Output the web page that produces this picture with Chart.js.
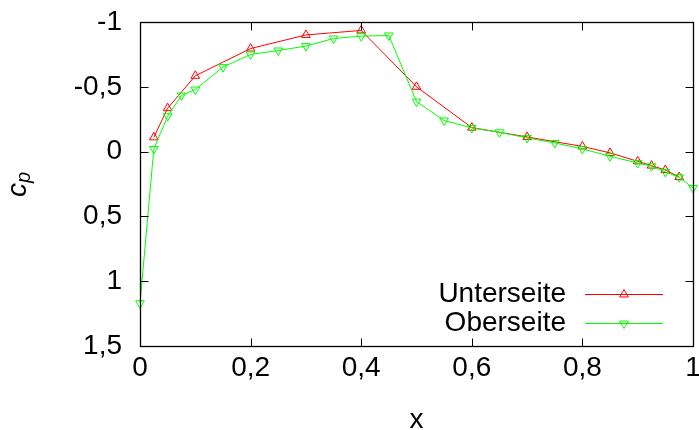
<!DOCTYPE html>
<html>
<head>
<meta charset="utf-8">
<script src="https://cdn.jsdelivr.net/npm/chart.js@4.4.1/dist/chart.umd.min.js"></script>
<style>
  html, body { margin: 0; padding: 0; background: #fff; }
  #wrap { width: 699px; height: 430px; }
</style>
</head>
<body>
<div id="wrap"><canvas id="cpChart"></canvas></div>
<script>
// pressure coefficient along the chord, lower and upper side
const xUnterseite = [0.025, 0.05, 0.1, 0.2, 0.3, 0.4, 0.5, 0.6, 0.7, 0.8, 0.85, 0.9, 0.925, 0.95, 0.975];
const cpUnterseite = [-0.11, -0.335, -0.585, -0.795, -0.9, -0.935, -0.5, -0.185, -0.113, -0.04, 0.01, 0.075, 0.108, 0.142, 0.196];

const xOberseite = [0, 0.025, 0.05, 0.075, 0.1, 0.15, 0.2, 0.25, 0.3, 0.35, 0.4, 0.45, 0.5, 0.55, 0.6, 0.65, 0.7, 0.75, 0.8, 0.85, 0.9, 0.925, 0.95, 0.975, 1];
const cpOberseite = [1.17, -0.02, -0.273, -0.433, -0.479, -0.652, -0.75, -0.78, -0.814, -0.873, -0.891, -0.896, -0.386, -0.24, -0.183, -0.149, -0.106, -0.067, -0.021, 0.036, 0.088, 0.113, 0.157, 0.198, 0.28];

const xTicks = [0, 0.2, 0.4, 0.6, 0.8, 1];
const yTicks = [-1, -0.5, 0, 0.5, 1, 1.5];

const FONT = 'Liberation Sans, Arial, Helvetica, sans-serif';
const fmt = v => String(Number(v.toFixed(2))).replace('.', ',');
const toPoints = (xs, ys) => xs.map((x, i) => ({ x: x, y: ys[i] }));

// box, inward tick marks, key and rotated c_p label
const gnuplotFrame = {
  id: 'gnuplotFrame',
  afterDraw(chart) {
    const { ctx, chartArea: a, scales } = chart;
    const L = Math.round(a.left) + 0.5, R = Math.round(a.right) + 0.5;
    const T = Math.round(a.top) + 0.5, B = Math.round(a.bottom) + 0.5;
    ctx.save();
    ctx.strokeStyle = '#000';
    ctx.lineWidth = 1.3;
    ctx.strokeRect(L, T, R - L, B - T);
    ctx.lineWidth = 1;
    const tl = 8;
    ctx.beginPath();
    xTicks.forEach(v => {
      const px = Math.round(scales.x.getPixelForValue(v)) + 0.5;
      ctx.moveTo(px, B); ctx.lineTo(px, B - tl);
      ctx.moveTo(px, T); ctx.lineTo(px, T + tl);
    });
    yTicks.forEach(v => {
      const py = Math.round(scales.y.getPixelForValue(v)) + 0.5;
      ctx.moveTo(L, py); ctx.lineTo(L + tl, py);
      ctx.moveTo(R, py); ctx.lineTo(R - tl, py);
    });
    ctx.stroke();

    // key
    ctx.font = '28px ' + FONT;
    ctx.textAlign = 'right';
    ctx.textBaseline = 'alphabetic';
    const rows = [{ ds: chart.data.datasets[0], y: 294 }, { ds: chart.data.datasets[1], y: 323 }];
    rows.forEach(r => {
      ctx.fillStyle = '#000';
      ctx.fillText(r.ds.label, 566, r.y + 8);
      ctx.strokeStyle = r.ds.borderColor;
      ctx.lineWidth = 1;
      ctx.beginPath();
      ctx.moveTo(585, r.y + 0.5); ctx.lineTo(663, r.y + 0.5);
      ctx.stroke();
      ctx.fillStyle = 'rgba(0,0,0,0)';
      Chart.helpers.drawPoint(ctx, {
        pointStyle: 'triangle', rotation: r.ds.pointRotation,
        radius: r.ds.pointRadius, borderWidth: 1
      }, 624, r.y + 0.5);
    });

    // y axis label c_p, rotated
    ctx.translate(26, 197);
    ctx.rotate(-Math.PI / 2);
    ctx.textAlign = 'left';
    ctx.fillStyle = '#000';
    ctx.font = 'italic 28px ' + FONT;
    ctx.fillText('c', 0, 0);
    const cw = ctx.measureText('c').width;
    ctx.font = 'italic 20px ' + FONT;
    ctx.fillText('p', cw, 3.5);
    ctx.restore();
  }
};

new Chart(document.getElementById('cpChart'), {
  type: 'line',
  data: {
    datasets: [{
      label: 'Unterseite',
      data: toPoints(xUnterseite, cpUnterseite),
      borderColor: '#ff0000',
      backgroundColor: 'rgba(0,0,0,0)',
      borderWidth: 1,
      pointStyle: 'triangle',
      pointRotation: 0,
      pointRadius: 5,
      pointBorderWidth: 1,
      tension: 0,
      clip: false,
      order: 1
    }, {
      label: 'Oberseite',
      data: toPoints(xOberseite, cpOberseite),
      borderColor: '#00ff00',
      backgroundColor: 'rgba(0,0,0,0)',
      borderWidth: 1,
      pointStyle: 'triangle',
      pointRotation: 180,
      pointRadius: 5,
      pointBorderWidth: 1,
      tension: 0,
      clip: false,
      order: 0
    }]
  },
  options: {
    responsive: true,
    maintainAspectRatio: false,
    animation: false,
    layout: { padding: { top: 22, right: 1, left: 0, bottom: 0 } },
    plugins: { legend: { display: false }, tooltip: { enabled: false } },
    scales: {
      x: {
        type: 'linear',
        min: 0, max: 1,
        grid: { display: false, drawTicks: false },
        border: { display: false },
        afterBuildTicks: s => { s.ticks = xTicks.map(v => ({ value: v })); },
        ticks: { callback: fmt, padding: 5, maxRotation: 0, color: '#000', font: { family: FONT, size: 28 } },
        title: { display: true, text: 'x', color: '#000', padding: { top: 0, bottom: -7 }, font: { family: FONT, size: 28 } },
        afterFit: s => { s.height = 84; s.paddingLeft = 0; s.paddingRight = 0; }
      },
      y: {
        type: 'linear',
        reverse: true,
        min: -1, max: 1.5,
        grid: { display: false, drawTicks: false },
        border: { display: false },
        afterBuildTicks: s => { s.ticks = yTicks.map(v => ({ value: v })); },
        ticks: { callback: fmt, padding: 18, color: '#000', font: { family: FONT, size: 28 } },
        afterFit: s => { s.width = 140; s.paddingTop = 0; s.paddingBottom = 0; }
      }
    }
  },
  plugins: [gnuplotFrame]
});
</script>
</body>
</html>
